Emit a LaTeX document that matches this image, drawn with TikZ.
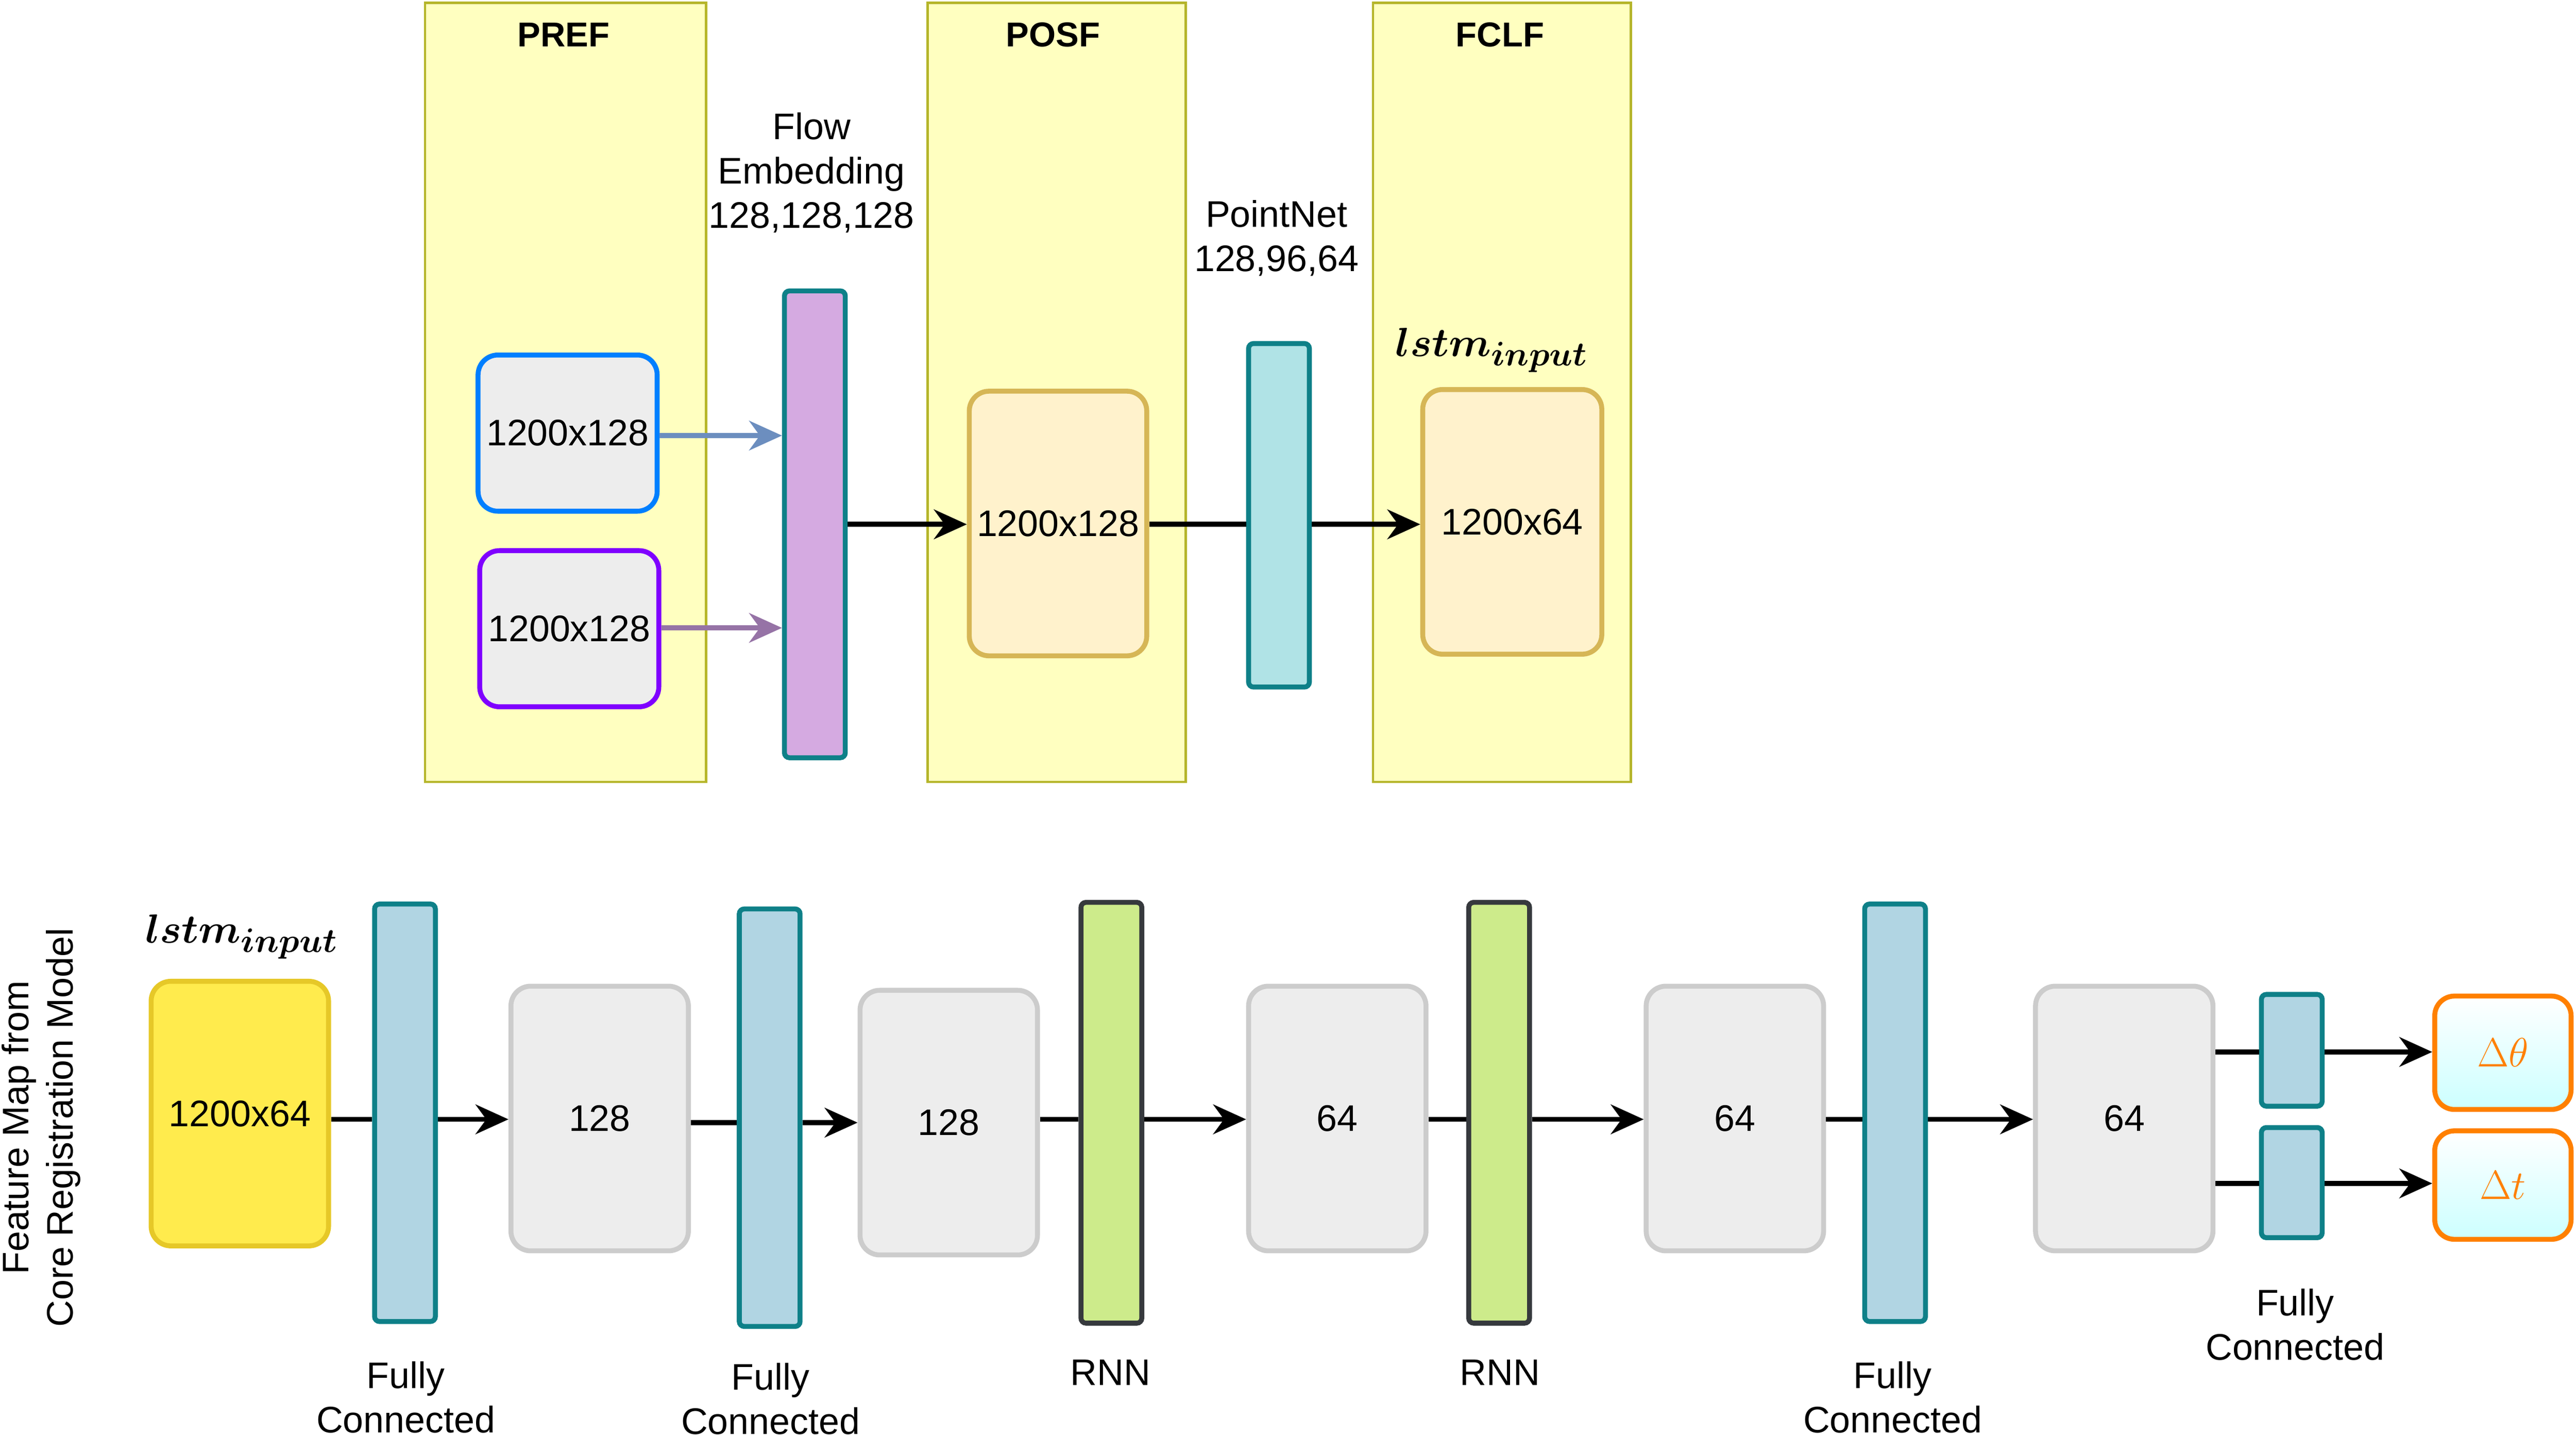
\documentclass[tikz,border=0pt]{standalone}
\usepackage{fontspec}
\setmainfont{Liberation Sans}
\usetikzlibrary{arrows.meta}
\definecolor{panelF}{HTML}{FFFFC0}\definecolor{panelD}{HTML}{B5B52A}
\definecolor{teal}{HTML}{0E8088}
\begin{document}
\begin{tikzpicture}[x=1pt,y=-1pt,
 panel/.style={draw=panelD,fill=panelF,line width=1.5pt},
 box/.style={draw,rounded corners=12pt,line width=3pt,fill=black!7,font=\fontsize{22.5}{26}\selectfont,inner sep=0pt},
 bar/.style={draw=teal,rounded corners=3pt,line width=3pt},
 lbl/.style={font=\fontsize{22.5}{27}\selectfont,align=center},
 ttl/.style={font=\fontsize{21}{24}\selectfont\bfseries},
 ar/.style={line width=3pt,-{Stealth[length=20pt,width=18pt]}},
 ln/.style={line width=3pt}]
\useasboundingbox (0,0) rectangle (1568,873);
% panels
\node[panel,minimum width=171pt,minimum height=474pt,anchor=north west] (pref) at (258,1) {};
\node[panel,minimum width=157pt,minimum height=474pt,anchor=north west] (posf) at (564,1) {};
\node[panel,minimum width=157pt,minimum height=474pt,anchor=north west] (fclf) at (835,1) {};
\node[ttl] (t1) at (343,21) {PREF};
\node[ttl] (t2) at (641,21) {POSF};
\node[ttl] (t3) at (913,21) {FCLF};
% top
\node[box,draw={rgb,255:red,0;green,127;blue,255},minimum width=109pt,minimum height=95pt] (b1) at (345.5,263.5) {1200x128};
\node[box,draw={rgb,255:red,127;green,0;blue,255},minimum width=109pt,minimum height=95pt] (b2) at (346.5,382.5) {1200x128};
\node[bar,fill={rgb,255:red,213;green,170;blue,225},minimum width=37pt,minimum height=284pt] (fe) at (496,319) {};
\node[lbl] (fel) at (494,105) {Flow\\Embedding\\128,128,128};
\node[box,draw={rgb,255:red,214;green,182;blue,86},fill={rgb,255:red,255;green,242;blue,204},minimum width=108pt,minimum height=161pt] (p1) at (644,318.5) {1200x128};
\node[bar,fill={rgb,255:red,176;green,227;blue,230},minimum width=37pt,minimum height=209pt] (pn) at (778.5,313.5) {};
\node[lbl] (pnl) at (777,145) {PointNet\\128,96,64};
\node[box,draw={rgb,255:red,214;green,182;blue,86},fill={rgb,255:red,255;green,242;blue,204},minimum width=109pt,minimum height=161pt] (f1) at (920.5,317.5) {1200x64};
\node[font=\fontsize{28}{32}\selectfont\boldmath] (ls1) at (908,213) {$lstm_{input}$};
\draw[ar,draw={rgb,255:red,108;green,142;blue,191}] (b1.east|-0,265) -- (fe.west|-0,265);
\draw[ar,draw={rgb,255:red,150;green,115;blue,166}] (b2.east|-0,382) -- (fe.west|-0,382);
\draw[ar] (fe.east|-0,319) -- (p1.west|-0,319);
\draw[ln] (p1.east|-0,319) -- (pn.west|-0,319);
\draw[ar] (pn.east|-0,319) -- (f1.west|-0,319);
% bottom
\node[lbl,rotate=90] (side) at (25,686) {Feature Map from\\Core Registration Model};
\node[font=\fontsize{28}{32}\selectfont\boldmath] (ls2) at (147,570) {$lstm_{input}$};
\node[box,draw={rgb,255:red,230;green,200;blue,40},fill={rgb,255:red,255;green,235;blue,77},minimum width=108pt,minimum height=161pt] (y) at (146,677.5) {1200x64};
\tikzset{fc/.style={bar,fill={rgb,255:red,177;green,213;blue,227},minimum width=37pt},
 rnn/.style={bar,draw={rgb,255:red,54;green,57;blue,61},fill={rgb,255:red,205;green,235;blue,139},minimum width=37pt,minimum height=256pt},
 gb/.style={box,draw=black!20,minimum width=108pt,minimum height=161pt}}
\node[fc,minimum height=254pt] (fc1) at (246.5,677) {};
\node[gb] (g1) at (365,680.5) {128};
\node[fc,minimum height=254pt] (fc2) at (468.5,680) {};
\node[gb] (g2) at (577.5,683) {128};
\node[rnn] (r1) at (676.5,677) {};
\node[gb] (g3) at (814,680.5) {64};
\node[rnn] (r2) at (912.5,677) {};
\node[gb] (g4) at (1056,680.5) {64};
\node[fc,minimum height=254pt] (fc3) at (1153.5,677) {};
\node[gb] (g5) at (1293,680.5) {64};
\node[fc,minimum height=68pt] (s1) at (1395,639) {};
\node[fc,minimum height=67pt] (s2) at (1395,719.5) {};
\node[box,draw={rgb,255:red,255;green,128;blue,0},top color=white,bottom color={rgb,255:red,204;green,255;blue,255},text={rgb,255:red,255;green,128;blue,0},font=\fontsize{26}{30}\selectfont,minimum width=83pt,minimum height=69pt] (o1) at (1523.5,640.5) {$\Delta\theta$};
\node[box,draw={rgb,255:red,255;green,128;blue,0},top color=white,bottom color={rgb,255:red,204;green,255;blue,255},text={rgb,255:red,255;green,128;blue,0},font=\fontsize{26}{30}\selectfont,minimum width=83pt,minimum height=66pt] (o2) at (1523.5,721) {$\Delta t$};
\node[lbl] (l1) at (247,850) {Fully\\Connected};
\node[lbl] (l2) at (469,851) {Fully\\Connected};
\node[lbl] (l3) at (676,835) {RNN};
\node[lbl] (l4) at (913,835) {RNN};
\node[lbl] (l5) at (1152,850) {Fully\\Connected};
\node[lbl] (l6) at (1397,806) {Fully\\Connected};
\draw[ln] (y.east|-0,681) -- (fc1.west|-0,681);
\draw[ar] (fc1.east|-0,681) -- (g1.west|-0,681);
\draw[ln] (g1.east|-0,683) -- (fc2.west|-0,683);
\draw[ar] (fc2.east|-0,683) -- (g2.west|-0,683);
\draw[ln] (g2.east|-0,681) -- (r1.west|-0,681);
\draw[ar] (r1.east|-0,681) -- (g3.west|-0,681);
\draw[ln] (g3.east|-0,681) -- (r2.west|-0,681);
\draw[ar] (r2.east|-0,681) -- (g4.west|-0,681);
\draw[ln] (g4.east|-0,681) -- (fc3.west|-0,681);
\draw[ar] (fc3.east|-0,681) -- (g5.west|-0,681);
\draw[ln] (g5.east|-0,640) -- (s1.west|-0,640);
\draw[ln] (g5.east|-0,720) -- (s2.west|-0,720);
\draw[ar] (s1.east|-0,640) -- (o1.west|-0,640);
\draw[ar] (s2.east|-0,720) -- (o2.west|-0,720);
\end{tikzpicture}
\end{document}
